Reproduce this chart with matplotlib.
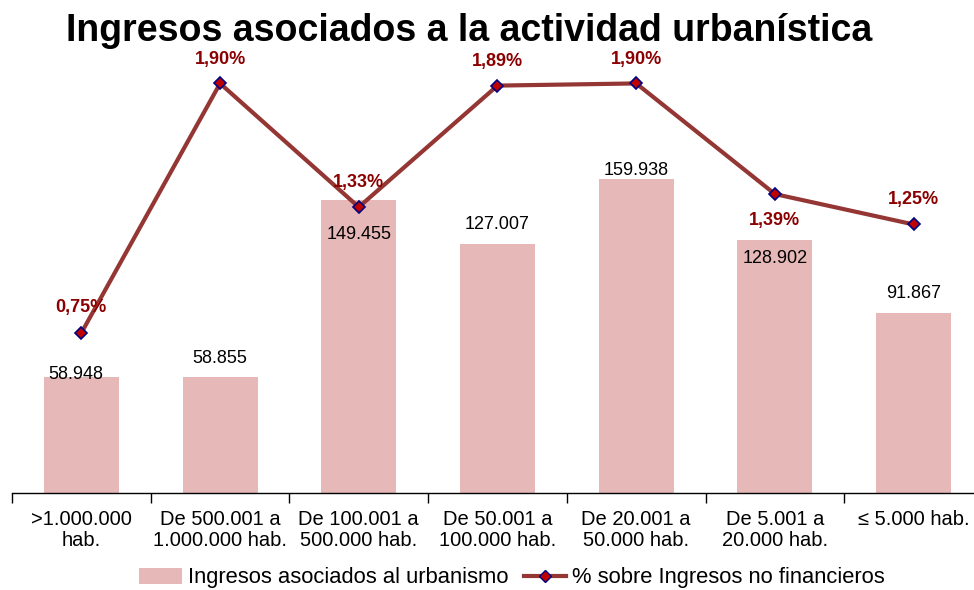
import matplotlib.pyplot as plt
from matplotlib.lines import Line2D
from matplotlib.patches import Patch

plt.rcParams['font.family'] = ['Liberation Sans', 'DejaVu Sans']

# datos
categorias = [">1.000.000\nhab.", "De 500.001 a\n1.000.000 hab.", "De 100.001 a\n500.000 hab.",
              "De 50.001 a\n100.000 hab.", "De 20.001 a\n50.000 hab.", "De 5.001 a\n20.000 hab.",
              "≤ 5.000 hab."]
ingresos = [58.948, 58.855, 149.455, 127.007, 159.938, 128.902, 91.867]
porcentaje = [0.75, 1.90, 1.33, 1.89, 1.90, 1.39, 1.25]

# desplazamiento de etiquetas (en puntos)
off_barras = [(-4, 2), (0, 14), (0, -25), (0, 14), (0, 6), (0, -13), (0, 14)]
off_pct = [(0, 18), (0, 17.5), (0, 18), (0, 17.5), (0, 17.5), (0, -19), (0, 18)]

color_barra = '#E6B8B7'
color_linea = '#943634'
color_pct = '#8B0000'

fig = plt.figure(figsize=(9.74, 5.9), dpi=100)
ax = fig.add_axes([12 / 974, 97 / 590, 971 / 974, 433 / 590])
x = list(range(len(categorias)))

ax.bar(x, ingresos, width=0.54, color=color_barra, zorder=1)
ax.set_xlim(-0.5, 6.5)
ax.set_ylim(0, 220.6)
for i, v in enumerate(ingresos):
    txt = f"{v:.3f}"
    ax.annotate(txt, (i, v), xytext=off_barras[i], textcoords='offset points',
                ha='center', va='center', fontsize=13, color='black')

ax2 = ax.twinx()
ax2.plot(x, porcentaje, color=color_linea, lw=3, marker='D', ms=6,
         markerfacecolor='#C00000', markeredgecolor='#000080', markeredgewidth=1.2, zorder=3)
ax2.set_ylim(0.012, 2.008)
for i, p in enumerate(porcentaje):
    ax2.annotate(f"{p:.2f}%".replace('.', ','), (i, p), xytext=off_pct[i],
                 textcoords='offset points', ha='center', va='center',
                 fontsize=13, fontweight='bold', color=color_pct)

for a in (ax, ax2):
    for s in ['top', 'right', 'left']:
        a.spines[s].set_visible(False)
    a.set_yticks([])
ax2.spines['bottom'].set_visible(False)
ax.spines['bottom'].set_linewidth(1.0)

ax.set_xticks(x)
ax.set_xticklabels(categorias, fontsize=14.5, linespacing=1.15)
ax.tick_params(axis='x', which='major', length=0, pad=12)
ax.set_xticks([i - 0.5 for i in range(len(categorias) + 1)], minor=True)
ax.tick_params(axis='x', which='minor', length=7, width=1, direction='out')

fig.text(469 / 974, 1 - 41 / 590, "Ingresos asociados a la actividad urbanística",
         ha='center', va='baseline', fontsize=27, fontweight='bold')

handles = [Patch(facecolor=color_barra, edgecolor='none'),
           Line2D([], [], color=color_linea, lw=3, marker='D', ms=6,
                  markerfacecolor='#C00000', markeredgecolor='#000080')]
fig.legend(handles, ["Ingresos asociados al urbanismo", "% sobre Ingresos no financieros"],
           loc='center', bbox_to_anchor=(512 / 974, 1 - 578 / 590), ncol=2, frameon=False,
           fontsize=15.8, handlelength=1.95, handletextpad=0.27, columnspacing=0.7)

fig.savefig("out.png", dpi=100)
